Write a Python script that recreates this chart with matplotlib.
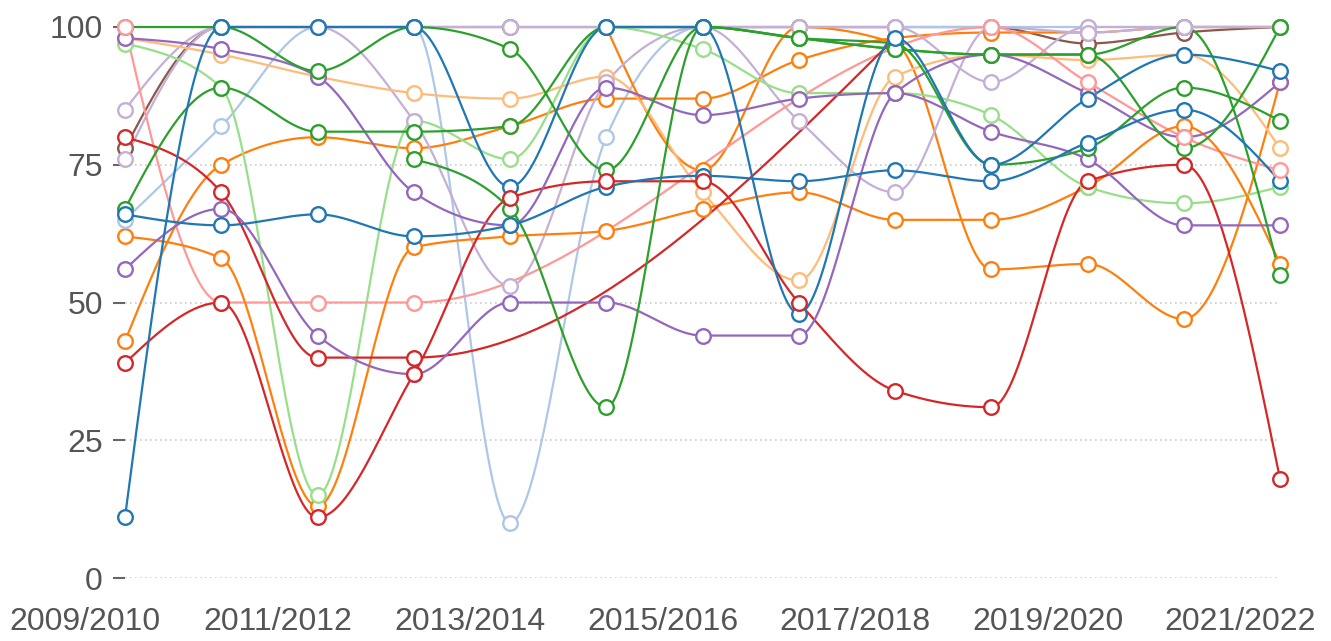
import numpy as np
import matplotlib
matplotlib.use('Agg')
import matplotlib.pyplot as plt
import matplotlib.transforms as mtransforms

plt.rcParams['font.family'] = ['Liberation Sans', 'DejaVu Sans']

years = ['2009/2010', '2010/2011', '2011/2012', '2012/2013', '2013/2014',
         '2014/2015', '2015/2016', '2016/2017', '2017/2018', '2018/2019',
         '2019/2020', '2020/2021', '2021/2022']

N = None
blue_a = [11, 100, 100, 100, 71, 100, 100, 48, 98, 75, 87, 95, 92]
blue_b = [66, 64, 66, 62, 64, 71, 73, 72, 74, 72, 79, 85, 72]
light_blue = [65, 82, 100, 100, 10, 80, 100, 100, 100, 100, 100, 100, 100]
orange_a = [43, 75, 80, 78, 82, 87, 87, 94, 98, 99, 99, 100, 100]
orange_b = [62, 58, 13, 60, 62, 63, 67, 70, 65, 65, 71, 82, 57]
orange_c = [N, N, N, N, N, 100, 74, 100, 97, 56, 57, 47, 90]
light_orange = [98, 95, 91, 88, 87, 91, 70, 54, 91, 95, 94, 95, 78]
green_a = [100, 100, 92, 100, 96, 74, 100, 98, 96, 95, 95, 78, 100]
green_b = [67, 89, 81, 81, 82, 100, 100, 98, 97, 75, 78, 89, 83]
green_c = [N, N, N, 76, 67, 31, 100, 98, 96, 95, 95, 100, 55]
light_green = [97, 89, 15, 83, 76, 100, 96, 88, 88, 84, 71, 68, 71]
red_a = [80, 70, 40, 40, N, N, N, N, 98, N, N, N, N]
red_b = [39, 50, 11, 37, 69, 72, 72, 50, 34, 31, 72, 75, 18]
pink = [100, 50, 50, 50, N, N, N, N, N, 100, 90, 80, 74]
purple_a = [98, 96, 91, 70, 64, 89, 84, 87, 88, 81, 76, 64, 64]
purple_b = [56, 67, 44, 37, 50, 50, 44, 44, 88, 95, 88, 80, 90]
light_purple_a = [85, 100, 100, 83, 53, 90, 100, 83, 70, 100, 99, 100, 100]
light_purple_b = [76, 100, 100, 100, 100, 100, 100, 100, 100, 90, 100, 100, 100]
brown = [78, 100, 100, 100, 100, 100, 100, 100, 100, 100, 97, 99, 100]

BLUE, LBLUE = '#1f77b4', '#aec7e8'
ORANGE, LORANGE = '#ff7f0e', '#ffbb78'
GREEN, LGREEN = '#2ca02c', '#98df8a'
RED, PINK = '#d62728', '#ff9896'
PURPLE, LPURPLE = '#9467bd', '#c5b0d5'
BROWN = '#8c564b'

# (values, colour, marker layer)
series = [
    (brown, BROWN, 0),
    (light_blue, LBLUE, 3),
    (orange_a, ORANGE, 1),
    (orange_c, ORANGE, 1),
    (light_purple_b, LPURPLE, 5),
    (light_purple_a, LPURPLE, 5),
    (light_green, LGREEN, 3),
    (light_orange, LORANGE, 2),
    (pink, PINK, 9),
    (orange_b, ORANGE, 1),
    (red_a, RED, 2),
    (red_b, RED, 9.5),
    (purple_a, PURPLE, 6),
    (purple_b, PURPLE, 6),
    (green_c, GREEN, 4),
    (green_b, GREEN, 7),
    (green_a, GREEN, 7),
    (blue_b, BLUE, 8),
    (blue_a, BLUE, 8),
]


def monotone(x, y, steps=40):
    # same tangents as d3.curveMonotoneX
    x = np.asarray(x, float)
    y = np.asarray(y, float)
    n = len(x)
    if n < 3:
        return x, y
    h = np.diff(x)
    s = np.diff(y) / h
    m = np.zeros(n)
    for i in range(1, n - 1):
        p = (s[i - 1] * h[i] + s[i] * h[i - 1]) / (h[i - 1] + h[i])
        sg = (-1 if s[i - 1] < 0 else 1) + (-1 if s[i] < 0 else 1)
        m[i] = sg * min(abs(s[i - 1]), abs(s[i]), 0.5 * abs(p))
    m[0] = (3 * s[0] - m[1]) / 2
    m[-1] = (3 * s[-1] - m[-2]) / 2
    xs, ys = [], []
    t = np.linspace(0, 1, steps)
    for i in range(n - 1):
        h00 = 2 * t**3 - 3 * t**2 + 1
        h10 = t**3 - 2 * t**2 + t
        h01 = -2 * t**3 + 3 * t**2
        h11 = t**3 - t**2
        xs.append(x[i] + t * h[i])
        ys.append(h00 * y[i] + h10 * h[i] * m[i] + h01 * y[i + 1] + h11 * h[i] * m[i + 1])
    return np.concatenate(xs), np.concatenate(ys)


fig = plt.figure(figsize=(13.31, 6.41), dpi=100)
ax = fig.add_axes([125 / 1331, 63 / 641, 1155 / 1331, 551 / 641])

idx = np.arange(len(years))
for k, (vals, col, layer) in enumerate(series):
    xi = [i for i, v in zip(idx, vals) if v is not None]
    yi = [v for v in vals if v is not None]
    cx, cy = monotone(xi, yi)
    ax.plot(cx, cy, color=col, lw=1.6, zorder=2 + k * 0.01, clip_on=False)
    ax.plot(xi, yi, 'o', ms=10.5, mfc='white', mec=col, mew=1.7,
            zorder=3 + layer * 0.1, clip_on=False)

ax.set_xlim(0, 12)
ax.set_ylim(0, 100)
ax.set_yticks([0, 25, 50, 75, 100])
ax.yaxis.grid(True, color='#cccccc', linestyle=(0, (1, 2)), lw=1.2)
ax.set_axisbelow(True)
for sp in ax.spines.values():
    sp.set_visible(False)

ax.set_xticks(idx[::2])
ax.set_xticklabels(years[::2])
ax.tick_params(axis='x', length=0, pad=21, labelsize=23, labelcolor='#555555')
ax.tick_params(axis='y', length=9, width=1.5, color='#666666', pad=7,
               labelsize=23, labelcolor='#555555')

offset = mtransforms.ScaledTranslation(-40 / 100, 0, fig.dpi_scale_trans)
for lab in ax.get_xticklabels():
    lab.set_transform(lab.get_transform() + offset)

fig.savefig('out.png', dpi=100)
